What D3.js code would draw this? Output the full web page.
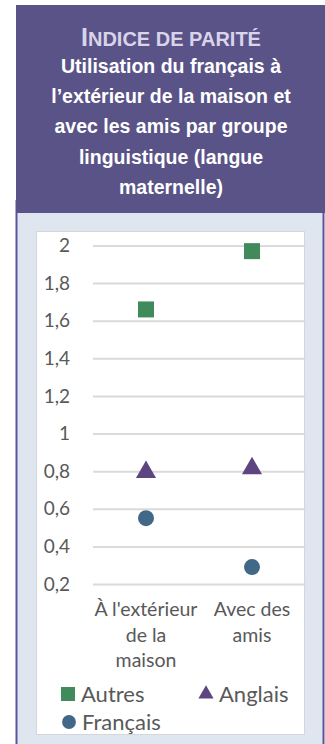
<!DOCTYPE html>
<html><head><meta charset="utf-8">
<script src="https://cdn.jsdelivr.net/npm/d3@7"></script>
<style>html,body{margin:0;padding:0;background:#fff;}svg{display:block;}</style>
</head><body>
<script>
const categories = [["À l'extérieur","de la","maison"],["Avec des","amis"]];
const categoryKeys = ["ext","amis"];
const seriesNames = ["Autres","Anglais","Français"];
const autres = [1.66, 1.97];
const anglais = [0.80, 0.82];
const francais = [0.55, 0.29];
const yTicks = [0.2,0.4,0.6,0.8,1,1.2,1.4,1.6,1.8,2];
const titleLines = ["Utilisation du français à","l’extérieur de la maison et","avec les amis par groupe","linguistique (langue","maternelle)"];

const W=325,H=744;
const svg=d3.select("body").append("svg").attr("width",W).attr("height",H);

// panel background
svg.append("rect").attr("x",16).attr("y",205).attr("width",308).attr("height",H-205).attr("fill","#dfe6ef");
svg.append("line").attr("x1",16.5).attr("x2",16.5).attr("y1",200).attr("y2",H).attr("stroke","#5a54a0").attr("stroke-width",2);
svg.append("line").attr("x1",323.5).attr("x2",323.5).attr("y1",200).attr("y2",H).attr("stroke","#5a54a0").attr("stroke-width",2);
// header
svg.append("rect").attr("x",16).attr("y",5).attr("width",W-16).attr("height",208).attr("fill","#5a5387");

// title
const t=svg.append("text").attr("x",171).attr("y",46).attr("text-anchor","middle")
  .attr("font-family","Liberation Sans, Arial, sans-serif").attr("font-weight","bold").attr("fill","#d9d4ea");
t.append("tspan").attr("font-size",25).text("I");
t.append("tspan").attr("font-size",20).text("NDICE DE PARITÉ");
svg.append("g").selectAll("text").data(titleLines).join("text")
  .attr("x",171).attr("y",(d,i)=>73+i*30.2).attr("text-anchor","middle")
  .attr("font-family","Liberation Sans, Arial, sans-serif").attr("font-weight","bold")
  .attr("font-size",19.5).attr("fill","#ffffff").text(d=>d);

// chart white box
svg.append("rect").attr("x",36.5).attr("y",231.5).attr("width",268).attr("height",503)
  .attr("fill","#fff").attr("stroke","#d4d7da").attr("stroke-width",1);

const y=d3.scaleLinear().domain([0.2,2]).range([584,245.5]);
const x=d3.scaleBand().domain(categoryKeys).range([93,305]);
const font="Lato, 'Open Sans', sans-serif";

const gy=svg.append("g").attr("transform","translate(93,0)")
  .call(d3.axisLeft(y).tickValues(yTicks).tickSize(-212).tickPadding(23)
    .tickFormat(d=>d3.format(".1~f")(d).replace(".",",")));
gy.select(".domain").remove();
gy.selectAll(".tick line").attr("stroke","#dadada").attr("stroke-width",2);
gy.selectAll(".tick text").attr("font-family",font).attr("font-size",19).attr("fill","#595959");

// x labels
const xl=svg.append("g");
categoryKeys.forEach((k,i)=>{
  xl.append("g").selectAll("text").data(categories[i]).join("text")
    .attr("x",x(k)+x.bandwidth()/2).attr("y",(d,j)=>616+j*25.5)
    .attr("text-anchor","middle").attr("font-family",font).attr("font-size",19.5).attr("fill","#595959").text(d=>d);
});

const cx=k=>x(k)+x.bandwidth()/2;
const cGreen="#418a5b", cPurple="#5d4680", cBlue="#426887";
const sym={sq:d3.symbol().type(d3.symbolSquare).size(256), tri:d3.symbol().type(d3.symbolTriangle).size(175), cir:d3.symbol().type(d3.symbolCircle).size(201)};

svg.append("g").selectAll("path").data(autres).join("path")
  .attr("transform",(d,i)=>`translate(${cx(categoryKeys[i])},${y(d)})`).attr("d",sym.sq()).attr("fill",cGreen);
svg.append("g").selectAll("path").data(anglais).join("path")
  .attr("transform",(d,i)=>`translate(${cx(categoryKeys[i])},${y(d)+1})`).attr("d",sym.tri()).attr("fill",cPurple);
svg.append("g").selectAll("path").data(francais).join("path")
  .attr("transform",(d,i)=>`translate(${cx(categoryKeys[i])},${y(d)})`).attr("d",sym.cir()).attr("fill",cBlue);

// legend
const legend=[
  {name:seriesNames[0],x:68,y:694,s:d3.symbol().type(d3.symbolSquare).size(196),c:cGreen},
  {name:seriesNames[1],x:206,y:694,s:d3.symbol().type(d3.symbolTriangle).size(100),c:cPurple},
  {name:seriesNames[2],x:69,y:722,s:d3.symbol().type(d3.symbolCircle).size(150),c:cBlue}];
const lg=svg.append("g").selectAll("g").data(legend).join("g").attr("transform",d=>`translate(${d.x},${d.y})`);
lg.append("path").attr("d",d=>d.s()).attr("fill",d=>d.c);
lg.append("text").attr("x",13).attr("y",0).attr("dy","0.35em").attr("font-family",font).attr("font-size",22).attr("fill","#595959").text(d=>d.name);
</script>
</body></html>
